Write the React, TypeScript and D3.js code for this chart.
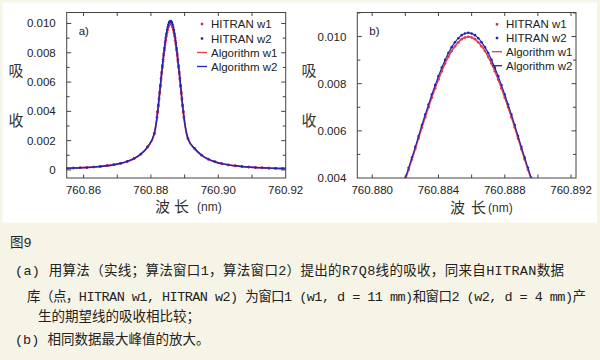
import React, { useEffect } from 'react';
import * as d3 from 'd3';

// wavelength grid (nm): coarse in the wings, fine around the peak
const wavelength = [
  760.855, 760.857, 760.859, 760.861, 760.863, 760.865, 760.867, 760.869, 760.871, 760.873, 760.875, 760.877, 760.879, 760.881,
  760.8818, 760.8820, 760.8822, 760.8824, 760.8826, 760.8828, 760.8830, 760.8832, 760.8834, 760.8836, 760.8838,
  760.8840, 760.8842, 760.8844, 760.8846, 760.8848, 760.8850, 760.8852, 760.8854, 760.8856, 760.8858,
  760.8860, 760.8862, 760.8864, 760.8866, 760.8868, 760.8870, 760.8872, 760.8874, 760.8876, 760.8878,
  760.8880, 760.8882, 760.8884, 760.8886, 760.8888, 760.8890, 760.8892, 760.8894, 760.8896, 760.8898,
  760.891, 760.893, 760.895, 760.897, 760.899, 760.901, 760.903, 760.905, 760.907, 760.909, 760.911, 760.913, 760.915, 760.917, 760.919, 760.920,
];

// window 2 (d = 4 mm)
const absorbW2 = [
  0.000113, 0.000129, 0.000148, 0.000172, 0.000202, 0.000241, 0.000292, 0.000360, 0.000454, 0.000587, 0.000785, 0.00109, 0.00158, 0.00250,
  0.00362, 0.00401, 0.00443, 0.00487, 0.00532, 0.00578, 0.00625, 0.00669, 0.00712, 0.00754, 0.00794,
  0.00832, 0.00868, 0.00901, 0.00930, 0.00955, 0.00976, 0.00993, 0.01006, 0.01013, 0.01016,
  0.01013, 0.01006, 0.00993, 0.00976, 0.00955, 0.00930, 0.00901, 0.00868, 0.00832, 0.00794,
  0.00754, 0.00712, 0.00669, 0.00625, 0.00578, 0.00532, 0.00487, 0.00443, 0.00401, 0.00362,
  0.00215, 0.00146, 0.00102, 0.000739, 0.000557, 0.000432, 0.000345, 0.000281, 0.000233, 0.000196, 0.000167, 0.000144, 0.000126, 0.000110, 0.0000977, 0.0000922,
];

// window 1 (d = 11 mm)
const absorbW1 = [
  0.000111, 0.000127, 0.000145, 0.000169, 0.000199, 0.000237, 0.000287, 0.000354, 0.000446, 0.000577, 0.000772, 0.00107, 0.00155, 0.00246,
  0.00356, 0.00394, 0.00435, 0.00479, 0.00523, 0.00568, 0.00614, 0.00658, 0.00700, 0.00741, 0.00781,
  0.00818, 0.00853, 0.00886, 0.00914, 0.00939, 0.00959, 0.00976, 0.00989, 0.00996, 0.00999,
  0.00996, 0.00989, 0.00976, 0.00959, 0.00939, 0.00914, 0.00886, 0.00853, 0.00818, 0.00781,
  0.00741, 0.00700, 0.00658, 0.00614, 0.00568, 0.00523, 0.00479, 0.00435, 0.00394, 0.00356,
  0.00211, 0.00144, 0.00100, 0.000726, 0.000548, 0.000425, 0.000339, 0.000276, 0.000229, 0.000193, 0.000164, 0.000142, 0.000124, 0.000108, 0.0000960, 0.0000906,
];

const legendLabels = ['HITRAN w1', 'HITRAN w2', 'Algorithm w1', 'Algorithm w2'];

const panelAxTicks = [760.855, 760.86, 760.87, 760.88, 760.89, 760.90, 760.91, 760.92];
const panelAxLabels = [760.86, 760.88, 760.90, 760.92];
const panelAyTicks = [0, 0.001, 0.002, 0.003, 0.004, 0.005, 0.006, 0.007, 0.008, 0.009, 0.010];
const panelAyLabels = [0, 0.002, 0.004, 0.006, 0.008, 0.010];

const panelBxTicks = [760.880, 760.882, 760.884, 760.886, 760.888, 760.890, 760.892];
const panelBxLabels = [760.880, 760.884, 760.888, 760.892];
const panelByTicks = [0.004, 0.005, 0.006, 0.007, 0.008, 0.009, 0.010, 0.011];
const panelByLabels = [0.004, 0.006, 0.008, 0.010];

const captionLines = [
  '(a) 用算法（实线；算法窗口1，算法窗口2）提出的R7Q8线的吸收，同来自HITRAN数据',
  '库（点，HITRAN w1, HITRAN w2) 为窗口1 (w1, d = 11 mm)和窗口2 (w2, d = 4 mm)产',
  '生的期望线的吸收相比较；',
  '(b) 相同数据最大峰值的放大。',
];

const RED_DOT = '#e3202e';
const BLUE_DOT = '#1a1ad8';
const RED_LINE = '#e0404c';
const BLUE_LINE = '#2424b0';
const AXIS = '#444';
const SANS = "'Liberation Sans', Arial, sans-serif";
const CJK = "'Noto Sans CJK SC', sans-serif";

type PanelProps = {
  id: string;
  left: number; right: number; top: number; bottom: number;
  xDomain: [number, number]; yDomain: [number, number];
  xTicks: number[]; xLabels: number[]; xFmt: (v: number) => string;
  yTicks: number[]; yLabels: number[];
  tag: string;
  legendX: number;
  legendY: number[];
  titleX: number;
  lineW: number;
};

const yFmt = (v: number) => (v === 0 ? '0' : d3.format('.3f')(v));

const Panel = (p: PanelProps) => {
  const x = d3.scaleLinear().domain(p.xDomain).range([p.left, p.right]);
  const y = d3.scaleLinear().domain(p.yDomain).range([p.bottom, p.top]);
  const pts1 = wavelength.map((w, i) => [w, absorbW1[i]] as [number, number]);
  const pts2 = wavelength.map((w, i) => [w, absorbW2[i]] as [number, number]);
  const line = d3.line<[number, number]>().x(d => x(d[0])).y(d => y(d[1])).curve(d3.curveMonotoneX);
  const clipId = 'clip-' + p.id;
  const isMajorY = (v: number) => p.yLabels.some(l => Math.abs(l - v) < 1e-9);

  return (
    <g>
      <defs>
        <clipPath id={clipId}>
          <rect x={p.left} y={p.top} width={p.right - p.left} height={p.bottom - p.top} />
        </clipPath>
      </defs>
      <g clipPath={`url(#${clipId})`}>
        {pts1.map((d, i) => <circle key={'a' + i} cx={x(d[0])} cy={y(d[1])} r={1.3} fill={RED_DOT} />)}
        {pts2.map((d, i) => <circle key={'b' + i} cx={x(d[0])} cy={y(d[1])} r={1.3} fill={BLUE_DOT} />)}
        <path d={line(pts1) || ''} fill="none" stroke={RED_LINE} strokeWidth={p.lineW} />
        <path d={line(pts2) || ''} fill="none" stroke={BLUE_LINE} strokeWidth={p.lineW * 0.8} />
      </g>
      <rect x={p.left} y={p.top} width={p.right - p.left} height={p.bottom - p.top} fill="none" stroke={AXIS} strokeWidth={1} />
      {p.xTicks.filter(t => t > p.xDomain[0] + 1e-6 && t < p.xDomain[1] - 1e-6).map((t, i) => (
        <g key={'xt' + i}>
          <line x1={x(t)} x2={x(t)} y1={p.bottom} y2={p.bottom - 3.5} stroke={AXIS} />
          <line x1={x(t)} x2={x(t)} y1={p.top} y2={p.top + 3.5} stroke={AXIS} />
        </g>
      ))}
      {p.yTicks.filter(t => t > p.yDomain[0] + 1e-9 && t < p.yDomain[1] - 1e-9).map((t, i) => {
        const len = isMajorY(t) ? 4.5 : 3;
        return (
          <g key={'yt' + i}>
            <line x1={p.left} x2={p.left + len} y1={y(t)} y2={y(t)} stroke={AXIS} />
            <line x1={p.right} x2={p.right - len} y1={y(t)} y2={y(t)} stroke={AXIS} />
          </g>
        );
      })}
      {p.xLabels.map((t, i) => (
        <text key={'xl' + i} x={x(t)} y={194} textAnchor="middle" fontFamily={SANS} fontSize={11.5} fill="#222">{p.xFmt(t)}</text>
      ))}
      {p.yLabels.map((t, i) => (
        <text key={'yl' + i} x={p.left - 11} y={y(t) + 4} textAnchor="end" fontFamily={SANS} fontSize={11.5} fill="#222">{yFmt(t)}</text>
      ))}
      <text x={p.left + 12} y={35} fontFamily={SANS} fontSize={11.5} fill="#222">{p.tag}</text>
      {legendLabels.map((lab, i) => {
        const cy = p.legendY[i];
        const col = i % 2 === 0 ? RED_DOT : BLUE_DOT;
        const lcol = i % 2 === 0 ? RED_LINE : BLUE_LINE;
        return (
          <g key={'lg' + i}>
            {i < 2
              ? <rect x={p.legendX - 1.2} y={cy - 1.2} width={2.4} height={2.4} fill={col} />
              : <line x1={p.legendX - 5} x2={p.legendX + 5} y1={cy} y2={cy} stroke={lcol} strokeWidth={1.3} />}
            <text x={p.legendX + 9} y={cy + 4} fontFamily={SANS} fontSize={11.5} fill="#222">{lab}</text>
          </g>
        );
      })}
      <text x={p.titleX} y={76} textAnchor="middle" fontFamily={CJK} fontSize={15} fill="#333">吸</text>
      <text x={p.titleX} y={126} textAnchor="middle" fontFamily={CJK} fontSize={15} fill="#333">收</text>
    </g>
  );
};

const App = () => {
  useEffect(() => {
    document.body.style.margin = '0';
  }, []);

  return (
    <svg width={600} height={360} style={{ display: 'block' }}>
      <rect x={0} y={0} width={600} height={360} fill="#f6f4e6" />
      <rect x={2.5} y={2.5} width={594.5} height={220} fill="#ffffff" />
      <Panel id="a" left={66.7} right={285.7} top={12.5} bottom={178}
        xDomain={[760.855, 760.92]} yDomain={[-0.00055, 0.01075]}
        xTicks={panelAxTicks} xLabels={panelAxLabels} xFmt={d3.format('.2f')}
        yTicks={panelAyTicks} yLabels={panelAyLabels}
        tag="a)" legendX={202} legendY={[24, 38.5, 52.5, 66.5]} titleX={16} lineW={1.8} />
      <Panel id="b" left={357.3} right={576} top={12.5} bottom={178}
        xDomain={[760.8791, 760.8923]} yDomain={[0.004, 0.01102]}
        xTicks={panelBxTicks} xLabels={panelBxLabels} xFmt={d3.format('.3f')}
        yTicks={panelByTicks} yLabels={panelByLabels}
        tag="b)" legendX={497} legendY={[24.3, 38, 51.7, 65.7]} titleX={309} lineW={1.5} />
      <g fontFamily={CJK} fill="#333">
        <text x={155} y={212} fontSize={15}>波</text>
        <text x={174} y={212} fontSize={15}>长</text>
        <text x={197} y={211} fontSize={12} fontFamily={SANS}>(nm)</text>
        <text x={450} y={213} fontSize={15}>波</text>
        <text x={471} y={213} fontSize={15}>长</text>
        <text x={488} y={212} fontSize={12} fontFamily={SANS}>(nm)</text>
      </g>
      <g fontFamily={"'Liberation Mono', 'Noto Sans CJK SC', monospace"} fontSize={13.5} fill="#222">
        <text x={10} y={247}>图9</text>
        <text x={15} y={275} textLength={549} lengthAdjust="spacing">{captionLines[0]}</text>
        <text x={27} y={301} textLength={559} lengthAdjust="spacing">{captionLines[1]}</text>
        <text x={38} y={321}>{captionLines[2]}</text>
        <text x={15} y={344}>{captionLines[3]}</text>
      </g>
    </svg>
  );
};

export default App;
